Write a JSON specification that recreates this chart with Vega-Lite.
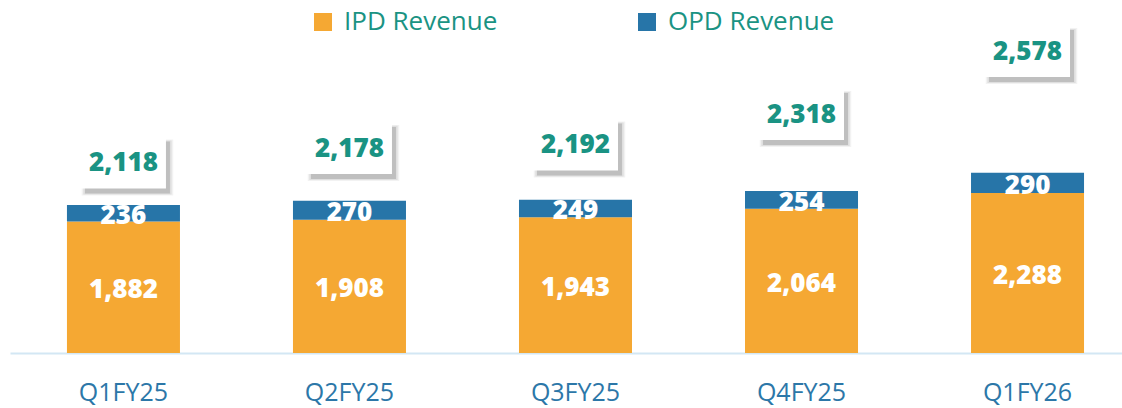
{
  "$schema": "https://vega.github.io/schema/vega-lite/v6.json",
  "width": 1112,
  "height": 353,
  "autosize": {"type": "none"},
  "padding": {"left": 10, "top": 0, "right": 0, "bottom": 55},
  "background": "white",
  "config": {"view": {"stroke": null}, "font": "Open Sans"},
  "datasets": {
    "bars": [
      {"q": "Q1FY25", "type": "IPD Revenue", "value": 1882},
      {"q": "Q1FY25", "type": "OPD Revenue", "value": 236},
      {"q": "Q2FY25", "type": "IPD Revenue", "value": 1908},
      {"q": "Q2FY25", "type": "OPD Revenue", "value": 270},
      {"q": "Q3FY25", "type": "IPD Revenue", "value": 1943},
      {"q": "Q3FY25", "type": "OPD Revenue", "value": 249},
      {"q": "Q4FY25", "type": "IPD Revenue", "value": 2064},
      {"q": "Q4FY25", "type": "OPD Revenue", "value": 254},
      {"q": "Q1FY26", "type": "IPD Revenue", "value": 2288},
      {"q": "Q1FY26", "type": "OPD Revenue", "value": 290}
    ],
    "totals": [
      {"q": "Q1FY25", "total": 2118},
      {"q": "Q2FY25", "total": 2178},
      {"q": "Q3FY25", "total": 2192},
      {"q": "Q4FY25", "total": 2318},
      {"q": "Q1FY26", "total": 2578}
    ]
  },
  "encoding": {
    "x": {
      "field": "q",
      "type": "nominal",
      "sort": ["Q1FY25", "Q2FY25", "Q3FY25", "Q4FY25", "Q1FY26"],
      "scale": {"paddingInner": 0.5, "paddingOuter": 0.21, "align": 0.6},
      "axis": {
        "title": null,
        "labelAngle": 0,
        "labelFont": "Open Sans",
        "labelFontSize": 25,
        "labelColor": "#2C77A8",
        "labelPadding": 27,
        "ticks": false,
        "grid": false,
        "domainColor": "#D3E7F4",
        "domainWidth": 2
      }
    }
  },
  "layer": [
    {
      "data": {"name": "bars"},
      "mark": {"type": "bar"},
      "encoding": {
        "y": {
          "field": "value",
          "type": "quantitative",
          "stack": "zero",
          "scale": {"domain": [0, 5050], "nice": false, "zero": true},
          "axis": null
        },
        "color": {
          "field": "type",
          "type": "nominal",
          "scale": {"domain": ["IPD Revenue", "OPD Revenue"], "range": ["#F5A833", "#2775A8"]},
          "legend": {
            "title": null,
            "orient": "none",
            "direction": "horizontal",
            "legendX": 300,
            "legendY": 9,
            "padding": 0,
            "symbolType": "square",
            "symbolSize": 324,
            "symbolStrokeWidth": 0,
            "labelFont": "Open Sans",
            "labelFontSize": 26,
            "labelColor": "#1A9383",
            "labelOffset": 8,
            "labelLimit": 300,
            "columnPadding": 136
          }
        },
        "order": {"field": "type", "sort": "ascending"}
      }
    },
    {
      "data": {"name": "bars"},
      "transform": [
        {"stack": "value", "groupby": ["q"], "sort": [{"field": "type", "order": "ascending"}], "as": ["v0", "v1"]},
        {"calculate": "(datum.v0 + datum.v1) / 2", "as": "mid"}
      ],
      "mark": {"type": "text", "font": "Open Sans", "fontWeight": 800, "fontSize": 26, "color": "white", "baseline": "middle", "align": "center", "dy": 3},
      "encoding": {
        "y": {"field": "mid", "type": "quantitative", "scale": {"domain": [0, 5050], "nice": false}, "axis": null},
        "text": {"field": "value", "type": "quantitative", "format": ","}
      }
    },
    {
      "data": {"name": "totals"},
      "layer": [
        {
          "mark": {"type": "point", "shape": "M-0.85,-0.52H0.85V0.52H-0.85Z", "filled": true, "color": "#000000", "opacity": 0.05, "xOffset": 4, "yOffset": 5, "size": 11600, "strokeWidth": 0}
        },
        {
          "mark": {"type": "point", "shape": "M-0.85,-0.52H0.85V0.52H-0.85Z", "filled": true, "color": "#000000", "opacity": 0.08, "xOffset": 4, "yOffset": 5, "size": 10800, "strokeWidth": 0}
        },
        {
          "mark": {"type": "point", "shape": "M-0.85,-0.52H0.85V0.52H-0.85Z", "filled": true, "color": "#000000", "opacity": 0.14, "xOffset": 4, "yOffset": 5, "size": 10000, "strokeWidth": 0}
        },
        {
          "mark": {"type": "point", "shape": "M-0.85,-0.52H0.85V0.52H-0.85Z", "filled": true, "color": "#FFFFFF", "opacity": 1, "size": 10000, "strokeWidth": 0}
        },
        {
          "mark": {"type": "text", "font": "Open Sans", "fontWeight": 800, "fontSize": 26, "color": "#1A9383", "baseline": "middle", "align": "center", "dy": 1},
          "encoding": {"text": {"field": "total", "type": "quantitative", "format": ","}}
        }
      ],
      "encoding": {
        "y": {"field": "total", "type": "quantitative", "scale": {"domain": [1332, 2788], "nice": false, "zero": false}, "axis": null}
      },
      "resolve": {"scale": {"y": "shared"}}
    }
  ],
  "resolve": {"scale": {"y": "independent"}}
}
